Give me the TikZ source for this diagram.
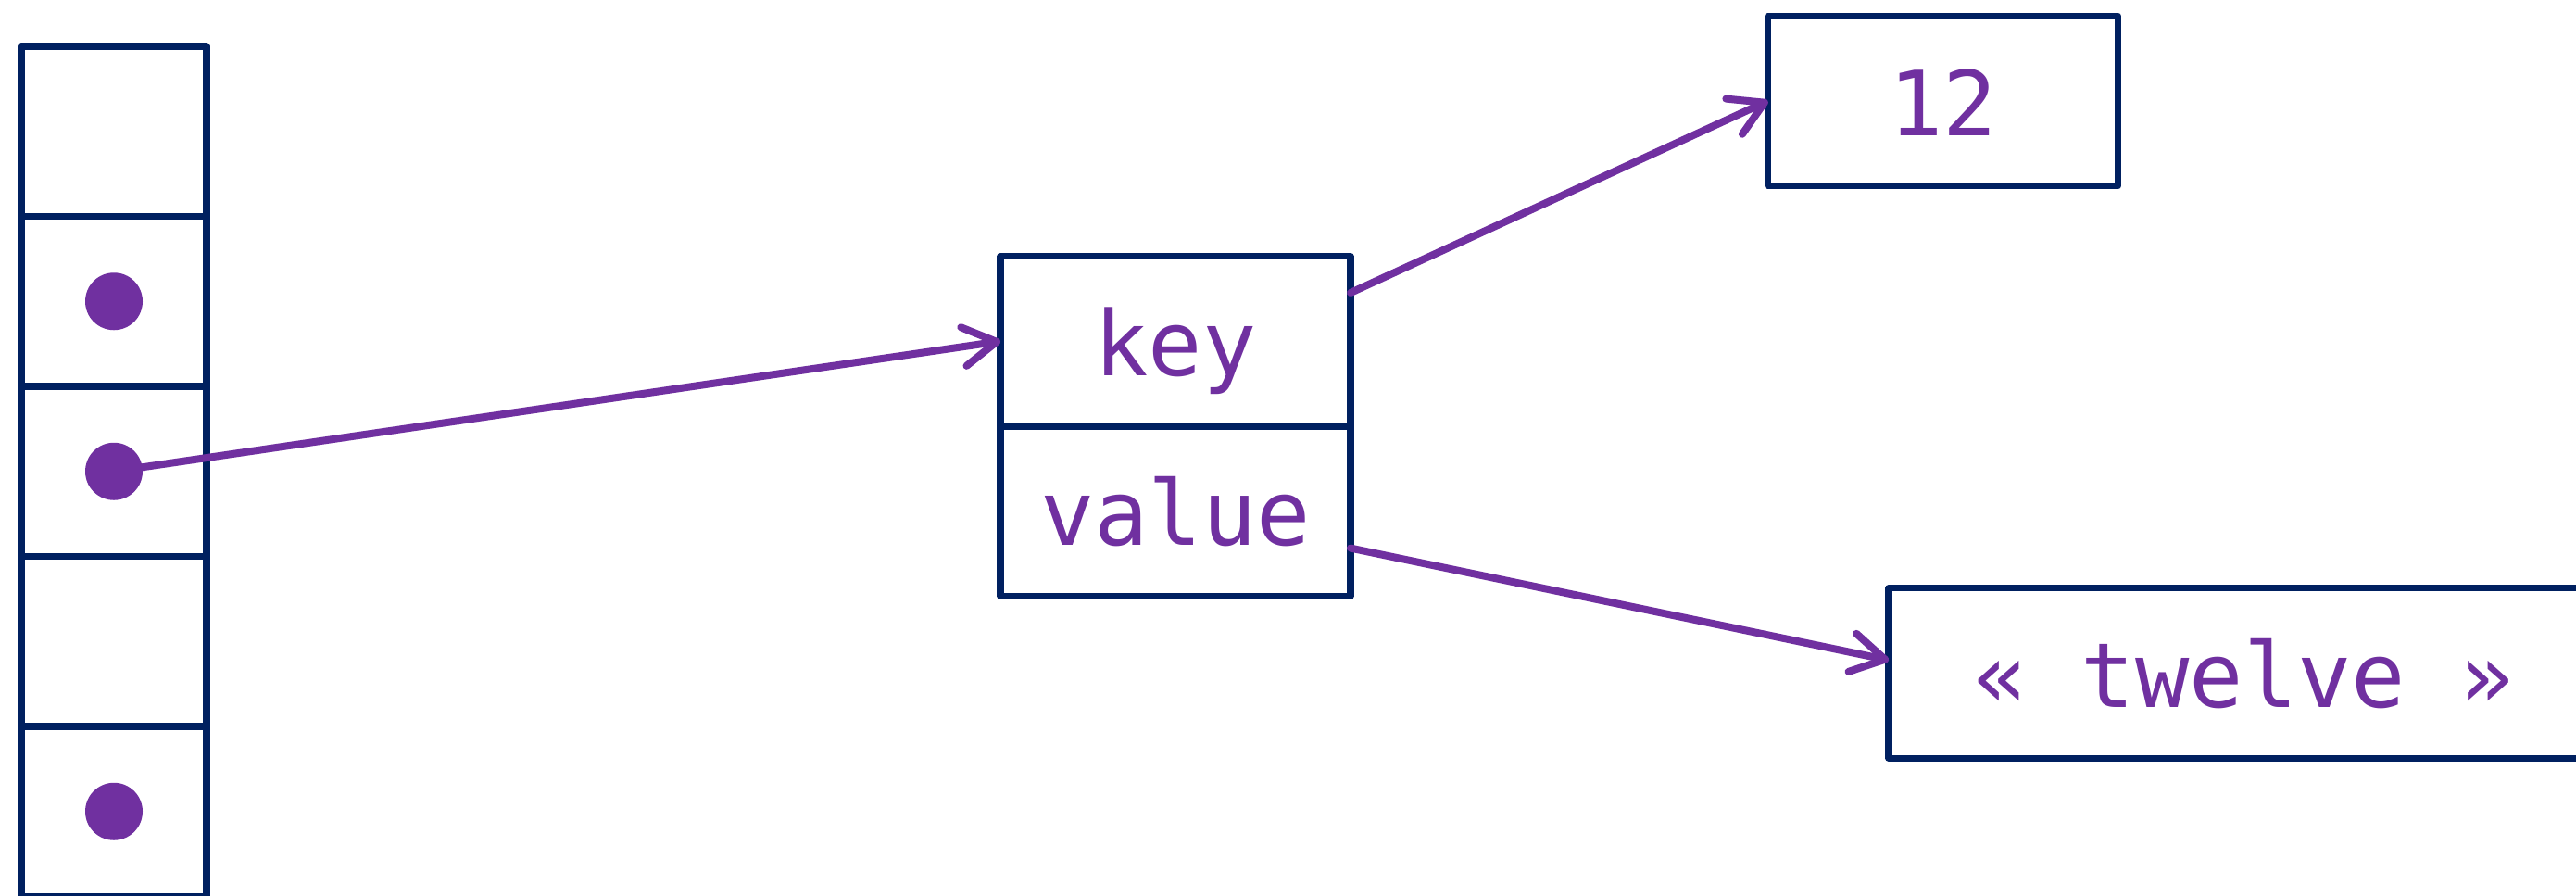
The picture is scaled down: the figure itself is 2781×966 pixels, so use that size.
\documentclass[tikz,border=0pt]{standalone}
\usepackage{fontspec}
\newfontfamily\codefont{DejaVu Sans Mono}
\usetikzlibrary{arrows.meta,calc}
\definecolor{navy}{HTML}{002060}
\definecolor{plum}{HTML}{7030A0}

\begin{document}
\begin{tikzpicture}[x=0.25pt,y=-0.25pt,
  cell/.style={draw=navy, line width=1.8pt, line join=round, inner sep=0pt, outer sep=0pt,
    minimum height=45.875pt, text height=22pt, text depth=3.5pt,
    font=\codefont\fontsize{24.25}{29}\selectfont, text=plum},
  slot/.style={cell, minimum width=50pt},
  field/.style={cell, minimum width=94.5pt},
  wide/.style={cell, minimum width=191.5pt},
  dot/.style={circle, fill=plum, inner sep=0pt, outer sep=0pt, minimum size=15.5pt},
  link/.style={draw=plum, line width=2pt, line cap=round,
    -{Straight Barb[length=9pt,width=10.5pt,round]}}
]
\useasboundingbox (0,0) rectangle (2781,966);
\fill[white] (0,0) rectangle (2781,966);
\clip (0,0) rectangle (2781,966);

% array of slots
\node[slot] (c1) at (123,141.75) {};
\node[slot] (c2) at (123,325.25) {};
\node[slot] (c3) at (123,508.75) {};
\node[slot] (c4) at (123,692.25) {};
\node[slot] (c5) at (123,875.75) {};

\node[dot] (d2) at (c2.center) {};
\node[dot] (d3) at (c3.center) {};
\node[dot] (d5) at (c5.center) {};

% key/value pair
\node[field] (key) at (1269,368.25) {key};
\node[field] (value) at (1269,551.75) {value};

% referenced objects
\node[field] (num) at (2097.5,109) {12};
\node[wide] (word) at (2422,726.5) {« twelve »};

% connector ends
\coordinate (keyout) at ($(key.north east)!0.215!(key.south east)$);
\coordinate (valout) at ($(value.north east)!0.717!(value.south east)$);
\coordinate (wordin) at ($(word.west)+(0,-14)$);

\draw[link] (d3) -- (key.west);
\draw[link] (keyout) -- (num.west);
\draw[link] (valout) -- (wordin);
\end{tikzpicture}
\end{document}
